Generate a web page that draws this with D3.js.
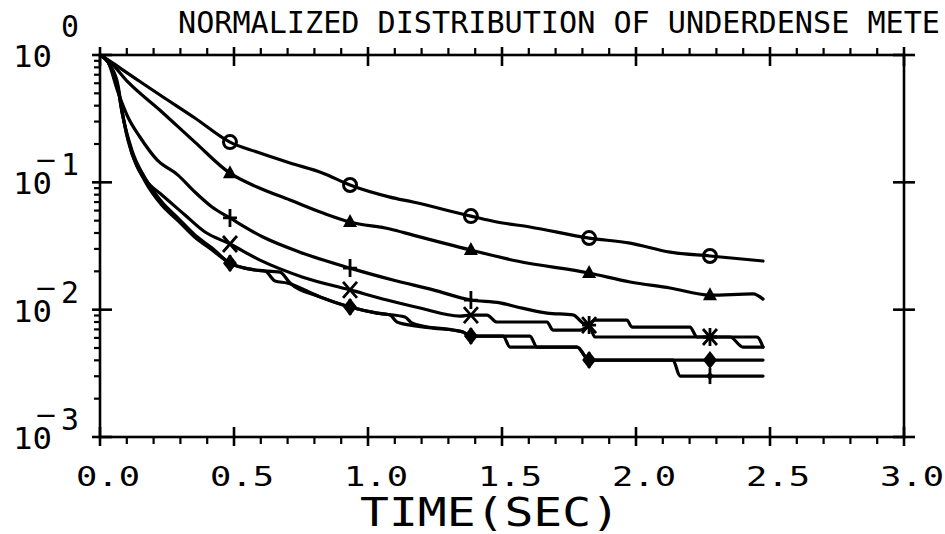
<!DOCTYPE html>
<html>
<head>
<meta charset="utf-8">
<script src="https://cdn.jsdelivr.net/npm/d3@7"></script>
<style>
  html, body { margin: 0; padding: 0; background: #fff; }
  svg { display: block; }
  text { font-family: "DejaVu Sans Mono", monospace; fill: #000; }
</style>
</head>
<body>
<svg id="chart" width="945" height="534"></svg>
<script>
// ---------------- data ----------------
const titleText = "NORMALIZED DISTRIBUTION OF UNDERDENSE METE";
const xAxisTitle = "TIME(SEC)";
const xTicks = [0, 0.5, 1.0, 1.5, 2.0, 2.5, 3.0];
const xTickLabels = ["0.0", "0.5", "1.0", "1.5", "2.0", "2.5", "3.0"];
const yDecades = [1, 0.1, 0.01, 0.001];
const yExponents = ["0", "1", "2", "3"];
const yExpNegative = [false, true, true, true];
const markerTimes = [0.485, 0.933, 1.384, 1.825, 2.276];

const circleT = [0, 0.019, 0.037, 0.093, 0.149, 0.224, 0.354, 0.485, 0.586, 0.709, 0.832, 0.933, 1.082, 1.168, 1.384, 1.481, 1.604, 1.825, 1.978, 2.127, 2.276, 2.474];
const circleV = [1, 0.947, 0.897, 0.743, 0.619, 0.485, 0.320, 0.207, 0.173, 0.142, 0.118, 0.0953, 0.0766, 0.0700, 0.0543, 0.0488, 0.0446, 0.0365, 0.0333, 0.0283, 0.0264, 0.0241];

const triangleT = [0, 0.037, 0.104, 0.231, 0.354, 0.485, 0.586, 0.709, 0.832, 0.933, 1.082, 1.168, 1.384, 1.556, 1.825, 1.978, 2.127, 2.276, 2.437, 2.474];
const triangleV = [1, 0.880, 0.614, 0.357, 0.207, 0.118, 0.0918, 0.0726, 0.0574, 0.0488, 0.0430, 0.0385, 0.0294, 0.0241, 0.0194, 0.0165, 0.0148, 0.0130, 0.0133, 0.0121];

const plusT = [0, 0.030, 0.067, 0.104, 0.149, 0.213, 0.291, 0.354, 0.418, 0.485, 0.608, 0.746, 0.933, 1.093, 1.243, 1.384, 1.493, 1.556, 1.668, 1.765, 1.802, 1.825, 1.847, 2.276, 2.351, 2.399, 2.474];
const plusV = [1, 0.881, 0.512, 0.326, 0.227, 0.150, 0.114, 0.0839, 0.0640, 0.0525, 0.0372, 0.0283, 0.0212, 0.0171, 0.0143, 0.0119, 0.0113, 0.0105, 0.0094, 0.0091, 0.00785, 0.00757, 0.00610, 0.00610, 0.00610, 0.00508, 0.00508];

const crossT = [0, 0.037, 0.067, 0.082, 0.104, 0.142, 0.187, 0.231, 0.317, 0.392, 0.485, 0.597, 0.757, 0.933, 1.071, 1.194, 1.343, 1.384, 1.444, 1.481, 1.668, 1.690, 1.791, 1.825, 1.847, 1.966, 1.985, 2.201, 2.228, 2.276, 2.451, 2.474];
const crossV = [1, 0.834, 0.581, 0.370, 0.215, 0.129, 0.0952, 0.0795, 0.0554, 0.0407, 0.0328, 0.0245, 0.0180, 0.0143, 0.0119, 0.0103, 0.00891, 0.00907, 0.00907, 0.00800, 0.00800, 0.00692, 0.00692, 0.00757, 0.00828, 0.00828, 0.00730, 0.00730, 0.00610, 0.00610, 0.00610, 0.00508];

const diamondT = [0, 0.037, 0.067, 0.082, 0.119, 0.168, 0.231, 0.291, 0.354, 0.418, 0.485, 0.578, 0.616, 0.653, 0.698, 0.821, 0.933, 1.034, 1.082, 1.108, 1.183, 1.317, 1.354, 1.384, 1.504, 1.530, 1.780, 1.825, 2.276, 2.474];
const diamondV = [1, 0.834, 0.551, 0.357, 0.179, 0.108, 0.0700, 0.0524, 0.0386, 0.0305, 0.0232, 0.0205, 0.0201, 0.0168, 0.0162, 0.0126, 0.0105, 0.00940, 0.00907, 0.00800, 0.00743, 0.00692, 0.00667, 0.00620, 0.00620, 0.00508, 0.00508, 0.00402, 0.00402, 0.00402];

const sixthT = [0, 0.037, 0.067, 0.082, 0.119, 0.168, 0.231, 0.291, 0.354, 0.418, 0.485, 0.578, 0.672, 0.709, 0.821, 0.933, 1.034, 1.138, 1.164, 1.243, 1.317, 1.354, 1.384, 1.604, 1.631, 1.780, 1.825, 2.138, 2.164, 2.276, 2.474];
const sixthV = [1, 0.834, 0.551, 0.357, 0.170, 0.102, 0.0660, 0.0500, 0.0370, 0.0295, 0.0232, 0.0205, 0.0197, 0.0162, 0.0126, 0.0105, 0.00940, 0.00875, 0.00785, 0.00717, 0.00692, 0.00667, 0.00620, 0.00620, 0.00508, 0.00508, 0.00402, 0.00402, 0.00301, 0.00301, 0.00301];

// ---------------- layout ----------------
const svg = d3.select("#chart");
const x = d3.scaleLinear().domain([0, 3]).range([100, 904]);
const y = d3.scaleLog().domain([0.001, 1]).range([437, 55]);

const ink = "#000";
const axisW = 2.6;

const g = svg.append("g");
g.append("rect").attr("x", x(0)).attr("y", y(1))
  .attr("width", x(3) - x(0)).attr("height", y(0.001) - y(1))
  .attr("fill", "none").attr("stroke", ink).attr("stroke-width", axisW);

// x ticks (top: minor up, bottom: minor down; majors cross)
const xMinor = d3.range(0, 30.5, 1).map(d => d / 10);
xMinor.forEach(t => {
  const isMajor = Math.abs(t * 2 - Math.round(t * 2)) < 1e-6;
  const px = x(t);
  if (isMajor) {
    g.append("line").attr("x1", px).attr("x2", px).attr("y1", y(1) - 8).attr("y2", y(1) + 11)
      .attr("stroke", ink).attr("stroke-width", axisW);
    g.append("line").attr("x1", px).attr("x2", px).attr("y1", y(0.001) - 10).attr("y2", y(0.001) + 9)
      .attr("stroke", ink).attr("stroke-width", axisW);
  } else {
    g.append("line").attr("x1", px).attr("x2", px).attr("y1", y(1) - 7).attr("y2", y(1))
      .attr("stroke", ink).attr("stroke-width", 2.2);
    g.append("line").attr("x1", px).attr("x2", px).attr("y1", y(0.001)).attr("y2", y(0.001) + 7)
      .attr("stroke", ink).attr("stroke-width", 2.2);
  }
});

// y ticks (left: minor outside; majors cross both sides)
yDecades.forEach(d => {
  const py = y(d);
  g.append("line").attr("x1", x(0) - 8).attr("x2", x(0) + 12).attr("y1", py).attr("y2", py)
    .attr("stroke", ink).attr("stroke-width", axisW);
  g.append("line").attr("x1", x(3) - 11).attr("x2", x(3) + 11).attr("y1", py).attr("y2", py)
    .attr("stroke", ink).attr("stroke-width", axisW);
  if (d > 0.001) {
    for (let k = 2; k <= 9; k++) {
      const pm = y(d * k / 10);
      g.append("line").attr("x1", x(0) - 6).attr("x2", x(0)).attr("y1", pm).attr("y2", pm)
        .attr("stroke", ink).attr("stroke-width", 2.2);
    }
  }
});

// x tick labels
xTicks.forEach((t, i) => {
  g.append("text").attr("x", x(t) + 8).attr("y", 486)
    .attr("text-anchor", "middle").attr("font-size", 26)
    .attr("textLength", 64).attr("lengthAdjust", "spacingAndGlyphs")
    .text(xTickLabels[i]);
});

// y tick labels: 10 with exponent
yDecades.forEach((d, i) => {
  const py = y(d);
  g.append("text").attr("x", 13).attr("y", py + 12).attr("font-size", 31)
    .attr("textLength", 39).attr("lengthAdjust", "spacingAndGlyphs").text("10");
  if (yExpNegative[i]) {
    g.append("text").attr("x", 36).attr("y", py - 13).attr("font-size", 26)
      .attr("textLength", 20).attr("lengthAdjust", "spacingAndGlyphs").text("\u2212");
  }
  const expY = yExpNegative[i] ? py - 7 : py - 18;
  g.append("text").attr("x", 61).attr("y", expY).attr("font-size", 31)
    .attr("textLength", 18).attr("lengthAdjust", "spacingAndGlyphs").text(yExponents[i]);
});

// title
g.append("text").attr("x", 178).attr("y", 33).attr("font-size", 30)
  .attr("textLength", 762).attr("lengthAdjust", "spacingAndGlyphs").text(titleText);

// x axis title (vertically stretched plotter-like lettering)
g.append("text").attr("transform", "translate(360,526) scale(1,1.1)")
  .attr("font-size", 36)
  .attr("textLength", 260).attr("lengthAdjust", "spacingAndGlyphs").text(xAxisTitle);

// ---------------- series ----------------
const series = [
  { t: circleT, v: circleV, mark: "circle" },
  { t: triangleT, v: triangleV, mark: "triangle" },
  { t: plusT, v: plusV, mark: "plus" },
  { t: crossT, v: crossV, mark: "cross" },
  { t: diamondT, v: diamondV, mark: "diamond" },
  { t: sixthT, v: sixthV, mark: "pin" }
];

const line = d3.line().curve(d3.curveMonotoneX).x(d => x(d[0])).y(d => y(d[1]));
const lines = svg.append("g");
series.forEach(s => {
  const pts = s.t.map((t, i) => [t, s.v[i]]);
  lines.append("path").attr("d", line(pts)).attr("fill", "none")
    .attr("stroke", ink).attr("stroke-width", 3.2).attr("stroke-linejoin", "round").attr("stroke-linecap", "round");
});

const marks = svg.append("g");
series.forEach(s => {
  s.t.forEach((t, i) => {
    if (!markerTimes.some(m => Math.abs(m - t) < 1e-9)) return;
    const cx = x(t), cy = y(s.v[i]);
    const gm = marks.append("g").attr("transform", `translate(${cx},${cy})`);
    switch (s.mark) {
      case "circle":
        gm.append("circle").attr("r", 6.5).attr("fill", "none").attr("stroke", ink).attr("stroke-width", 3);
        break;
      case "triangle":
        gm.append("path").attr("d", "M0,-8L7,5L-7,5Z").attr("fill", ink);
        break;
      case "plus":
        gm.append("path").attr("d", "M-7,0H7M0,-9V9").attr("stroke", ink).attr("stroke-width", 2.8);
        break;
      case "cross":
        gm.append("path").attr("d", "M-7,-8L7,8M-7,8L7,-8").attr("stroke", ink).attr("stroke-width", 2.8);
        break;
      case "diamond":
        gm.append("path").attr("d", "M0,-9L7,0L0,9L-7,0Z").attr("fill", ink);
        break;
      case "pin":
        gm.append("path").attr("d", "M0,-4L4,0L0,4L-4,0Z").attr("fill", ink);
        gm.append("path").attr("d", "M0,-8V8").attr("stroke", ink).attr("stroke-width", 2.8);
        break;
    }
  });
});
</script>
</body>
</html>
